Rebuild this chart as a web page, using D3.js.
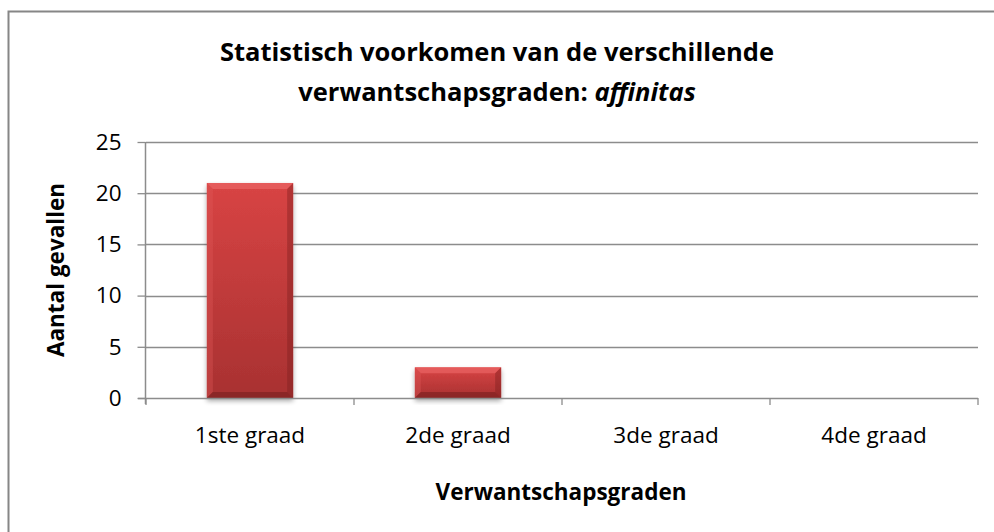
<!DOCTYPE html>
<html>
<head>
<meta charset="utf-8">
<script src="https://cdn.jsdelivr.net/npm/d3@7"></script>
<style>
body { margin: 0; background: #fff; }
svg text { font-family: "Open Sans", sans-serif; }
</style>
</head>
<body>
<svg id="chart" width="994" height="532"></svg>
<script>
// data
var categories = ["1ste graad", "2de graad", "3de graad", "4de graad"];
var values = [21, 3, 0, 0];
var yTicks = [0, 5, 10, 15, 20, 25];

var svg = d3.select("#chart");
var mLeft = 146, mRight = 978, mTop = 142, mBottom = 398;

// chart border
svg.append("rect")
	.attr("x", 8.5).attr("y", 11.5)
	.attr("width", 1000).attr("height", 540)
	.attr("fill", "#fff")
	.attr("stroke", "#868686").attr("stroke-width", 2);

var x = d3.scaleBand().domain(categories).range([mLeft, mRight]).paddingInner(0.585).paddingOuter(0.2925);
var xOuter = d3.scaleBand().domain(categories).range([mLeft, mRight]);
var y = d3.scaleLinear().domain([0, 25]).range([mBottom, mTop]);

// gridlines
svg.append("g").selectAll("line").data(yTicks.filter(function(d){ return d > 0 })).enter().append("line")
	.attr("x1", mLeft).attr("x2", mRight)
	.attr("y1", function(d){ return Math.round(y(d)) + 0.5 })
	.attr("y2", function(d){ return Math.round(y(d)) + 0.5 })
	.attr("stroke", "#8c8c8c").attr("stroke-width", 1.3);

var defs = svg.append("defs");
var grad = defs.append("linearGradient").attr("id", "barGrad").attr("x1", 0).attr("y1", 0).attr("x2", 0).attr("y2", 1);
grad.append("stop").attr("offset", "0%").attr("stop-color", "#d84444");
grad.append("stop").attr("offset", "100%").attr("stop-color", "#a83131");
var shadow = defs.append("filter").attr("id", "shadow").attr("x", "-20%").attr("y", "-20%").attr("width", "140%").attr("height", "140%");
shadow.append("feGaussianBlur").attr("in", "SourceAlpha").attr("stdDeviation", 2.5);
shadow.append("feOffset").attr("dx", 0).attr("dy", 3).attr("result", "b");
shadow.append("feComponentTransfer").append("feFuncA").attr("type", "linear").attr("slope", 0.35);
var merge = shadow.append("feMerge");
merge.append("feMergeNode");
merge.append("feMergeNode").attr("in", "SourceGraphic");

// bars with bevel
var bar = svg.append("g").selectAll("g").data(values.map(function(v, i){ return {cat: categories[i], v: v} }).filter(function(d){ return d.v > 0 }))
	.enter().append("g");

bar.append("rect")
	.attr("x", function(d){ return x(d.cat) })
	.attr("y", function(d){ return y(d.v) })
	.attr("width", x.bandwidth())
	.attr("height", function(d){ return y(0) - y(d.v) })
	.attr("fill", "url(#barGrad)")
	.attr("filter", "url(#shadow)");

var bv = 6;
function bevel(d, side){
	var x0 = x(d.cat), x1 = x0 + x.bandwidth(), y0 = y(d.v), y1 = y(0);
	var b = Math.min(bv, (y1 - y0) / 2);
	if (side == "top") return [[x0, y0], [x1, y0], [x1 - b, y0 + b], [x0 + b, y0 + b]];
	if (side == "left") return [[x0, y0], [x0 + b, y0 + b], [x0 + b, y1 - b], [x0, y1]];
	if (side == "right") return [[x1, y0], [x1, y1], [x1 - b, y1 - b], [x1 - b, y0 + b]];
	return [[x0, y1], [x0 + b, y1 - b], [x1 - b, y1 - b], [x1, y1]];
}
var sides = [["top", "#ef6a6a", 0.6], ["left", "#e05a5a", 0.35], ["right", "#7a1f1f", 0.4], ["bottom", "#6e1a1a", 0.5]];
sides.forEach(function(s){
	bar.append("polygon")
		.attr("points", function(d){ return bevel(d, s[0]).join(" ") })
		.attr("fill", s[1]).attr("opacity", s[2]);
});

// axes
var yAxis = svg.append("g").attr("transform", "translate(" + (mLeft - 0.5) + ",0)")
	.call(d3.axisLeft(y).tickValues(yTicks).tickSize(8).tickPadding(16));
var xAxis = svg.append("g").attr("transform", "translate(0," + (mBottom + 0.5) + ")")
	.call(d3.axisBottom(x).tickSize(0).tickPadding(29));
[yAxis, xAxis].forEach(function(a){
	a.select(".domain").attr("stroke", "#8c8c8c").attr("stroke-width", 1.5);
	a.selectAll(".tick line").attr("stroke", "#8c8c8c").attr("stroke-width", 1.3);
	a.selectAll("text").attr("font-size", 22.5).attr("fill", "#000").style("font-family", "'Open Sans', sans-serif");
});
yAxis.select(".domain").attr("d", "M0," + mTop + "V" + (mBottom + 6));
xAxis.select(".domain").attr("d", "M" + (mLeft - 8) + ",0H" + mRight);

// x tick marks at category boundaries
svg.append("g").selectAll("line").data(categories.concat(["end"])).enter().append("line")
	.attr("x1", function(d, i){ return i < categories.length ? xOuter(d) : mRight })
	.attr("x2", function(d, i){ return i < categories.length ? xOuter(d) : mRight })
	.attr("y1", mBottom).attr("y2", mBottom + 7)
	.attr("stroke", "#8c8c8c").attr("stroke-width", 1.3);

// titles
var title = svg.append("text").attr("text-anchor", "middle").attr("font-size", 25.5).attr("font-weight", "bold");
title.append("tspan").attr("x", 497).attr("y", 61).text("Statistisch voorkomen van de verschillende");
var t2 = title.append("tspan").attr("x", 497).attr("y", 101);
t2.append("tspan").text("verwantschapsgraden: ");
t2.append("tspan").attr("font-style", "italic").text("affinitas");

svg.append("text")
	.attr("x", 561).attr("y", 500)
	.attr("text-anchor", "middle").attr("font-size", 22.5).attr("font-weight", "bold")
	.text("Verwantschapsgraden");

svg.append("text")
	.attr("transform", "translate(64," + ((mTop + mBottom) / 2) + ") rotate(-90)")
	.attr("text-anchor", "middle").attr("font-size", 22.5).attr("font-weight", "bold")
	.text("Aantal gevallen");
</script>
</body>
</html>
